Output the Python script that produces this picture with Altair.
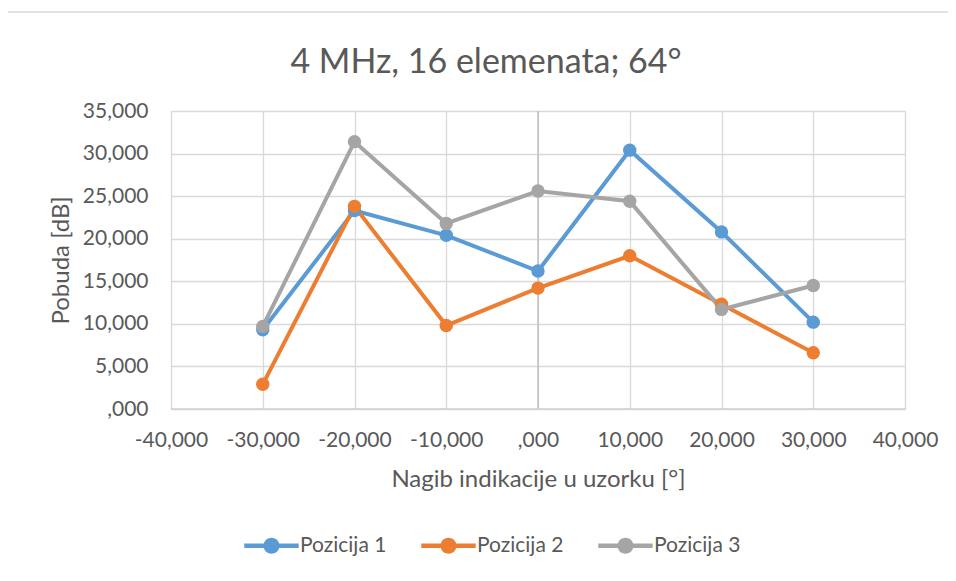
import altair as alt
import pandas as pd

angles = [-30, -20, -10, 0, 10, 20, 30]
pozicija_1 = [9.3, 23.3, 20.4, 16.2, 30.4, 20.8, 10.2]
pozicija_2 = [2.9, 23.8, 9.8, 14.2, 18.0, 12.3, 6.6]
pozicija_3 = [9.7, 31.4, 21.8, 25.6, 24.4, 11.7, 14.5]
series_names = ["Pozicija 1", "Pozicija 2", "Pozicija 3"]
colors = ["#5B9BD5", "#ED7D31", "#A5A5A5"]

rows = []
for name, vals in zip(series_names, [pozicija_1, pozicija_2, pozicija_3]):
    for a, v in zip(angles, vals):
        rows.append({"x": a, "y": v, "s": name})
df = pd.DataFrame(rows)

FONT = "Lato"
TXT = "#595959"
lab = ("datum.value == 0 ? ',000' : "
       "replace(replace(format(datum.value, '.3f'), '.', ','), '\u2212', '-')")

xs = alt.X("x:Q", scale=alt.Scale(domain=[-40, 40], nice=False),
           axis=alt.Axis(values=list(range(-40, 41, 10)), labelExpr=lab, labelOverlap=False,
                         labelFlush=False,
                         title="Nagib indikacije u uzorku [°]", grid=True,
                         gridColor="#D9D9D9", gridWidth=1.3, domain=False, ticks=False,
                         labelPadding=20, titlePadding=17, labelFontSize=21,
                         titleFontSize=24, labelColor=TXT, titleColor=TXT,
                         labelFont=FONT, titleFont=FONT, titleFontWeight="normal"))
ys = alt.Y("y:Q", scale=alt.Scale(domain=[0, 35], nice=False),
           axis=alt.Axis(values=list(range(0, 36, 5)), labelExpr=lab, labelOverlap=False,
                         title="Pobuda [dB]", grid=True, gridColor="#D9D9D9",
                         gridWidth=1.3, domain=False, ticks=False, labelPadding=23,
                         titlePadding=9, labelFontSize=21, titleFontSize=24,
                         labelColor=TXT, titleColor=TXT, labelFont=FONT,
                         titleFont=FONT, titleFontWeight="normal"))
cscale = alt.Scale(domain=series_names, range=colors)

frame = alt.Chart(pd.DataFrame({"k": [0]})).mark_rect(
    fillOpacity=0, stroke="#D9D9D9", strokeWidth=1.5, clip=False
).encode(x=alt.value(-164), x2=alt.value(800), y=alt.value(-99), y2=alt.value(480))

zero_x = alt.Chart(pd.DataFrame({"x": [0]})).mark_rule(color="#BFBFBF", strokeWidth=1.5).encode(x="x:Q")
zero_y = alt.Chart(pd.DataFrame({"y": [0]})).mark_rule(color="#D0D0D0", strokeWidth=1.5).encode(y="y:Q")

legend_symbol = ("M-3.4,-0.28L-0.9,-0.28L-0.9,0.28L-3.4,0.28Z"
                 "M0.9,-0.28L3.4,-0.28L3.4,0.28L0.9,0.28Z"
                 "M-1,0A1,1 0 1,1 1,0A1,1 0 1,1 -1,0Z")

lines = alt.Chart(df).mark_line(strokeWidth=4).encode(
    x=xs, y=ys, color=alt.Color("s:N", scale=cscale, legend=None), detail="s:N")
points = alt.Chart(df).mark_point(filled=True, size=180, opacity=1).encode(
    x="x:Q", y="y:Q",
    fill=alt.Fill("s:N", scale=cscale, legend=alt.Legend(
        title=None, orient="none", legendX=90, legendY=424, direction="horizontal",
        symbolType=legend_symbol, symbolSize=256, symbolStrokeWidth=0,
        symbolOpacity=1, labelFontSize=21, labelFont=FONT, labelColor=TXT,
        columnPadding=34, labelOffset=18, padding=0)),
)

chart = alt.layer(frame, zero_x, zero_y, lines, points).properties(
    width=734, height=298,
    title=alt.Title("4 MHz, 16 elemenata; 64°", fontSize=34, font=FONT, color=TXT,
                    fontWeight="normal", anchor="middle", frame="group", dx=-52,
                    offset=0, baseline="alphabetic", dy=96),
    autosize=alt.AutoSizeParams(type="none"),
    padding={"left": 163, "top": 103, "right": 43, "bottom": 164},
).resolve_legend(color="independent", fill="independent").configure_view(stroke=None).configure(background="white")

chart.save("out.html", embed_options={"renderer": "svg", "actions": False})
